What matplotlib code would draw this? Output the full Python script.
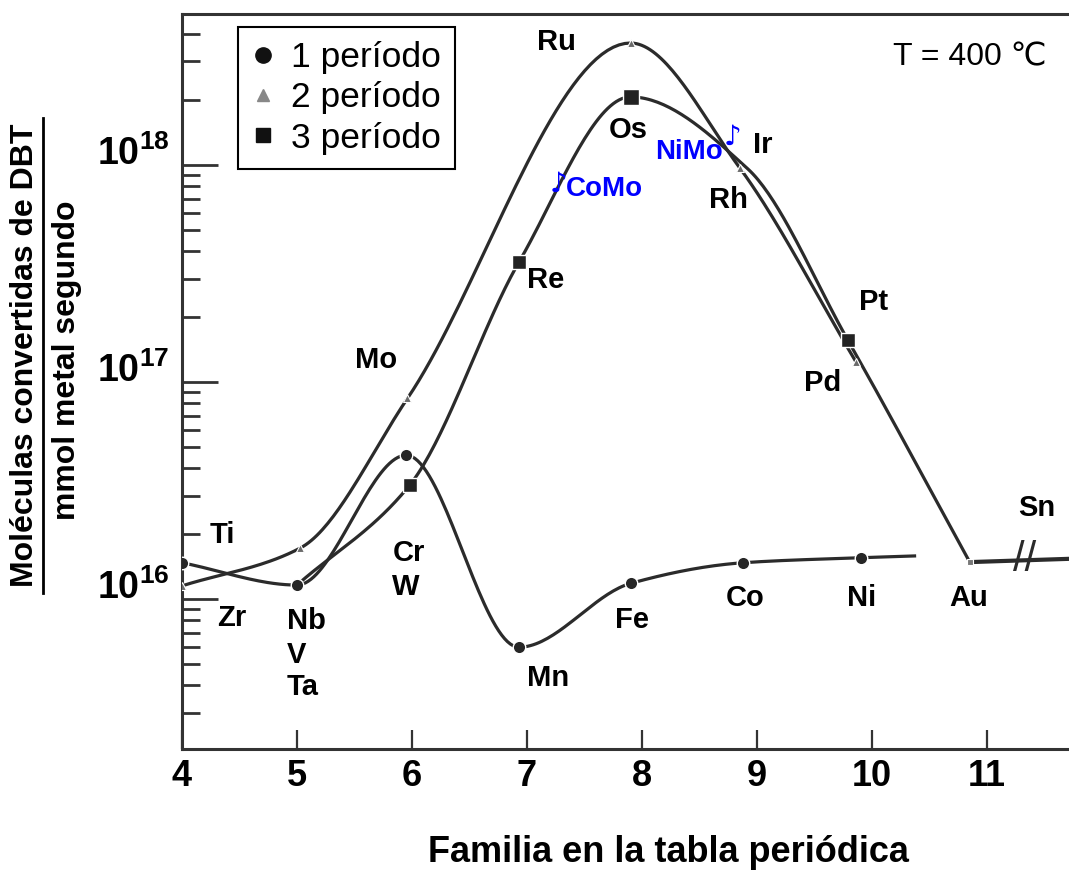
import numpy as np
import matplotlib
matplotlib.use('Agg')
import matplotlib.pyplot as plt
from matplotlib.lines import Line2D
from matplotlib.ticker import FixedLocator, LogLocator, NullFormatter

plt.rcParams['font.family'] = ['Liberation Sans', 'DejaVu Sans']
plt.rcParams['mathtext.fontset'] = 'custom'
plt.rcParams['mathtext.rm'] = 'Liberation Sans'
plt.rcParams['mathtext.bf'] = 'Liberation Sans:bold'

# periodo 1 (3d): Ti V Cr Mn Fe Co Ni, y el final del trazo
fam_p1 = [4.0, 5.0, 5.95, 6.93, 7.90, 8.88, 9.90, 10.37]
val_p1 = [1.47e16, 1.16e16, 4.6e16, 6.0e15, 1.18e16, 1.47e16, 1.55e16, 1.58e16]
# periodo 2 (4d): Zr Nb Mo Ru Rh Pd
fam_p2 = [4.0, 5.03, 5.96, 7.90, 8.85, 9.86]
val_p2 = [1.15e16, 1.72e16, 8.4e16, 3.65e18, 9.7e17, 1.24e17]
# periodo 3 (5d): Ta W Re Os Ir Pt Au
fam_p3 = [5.0, 5.98, 6.93, 7.90, 8.92, 9.79, 10.85]
val_p3 = [1.16e16, 3.35e16, 3.57e17, 2.06e18, 9.6e17, 1.56e17, 1.48e16]
# Au -> Sn (eje cortado)
fam_sn = [10.85, 12.0]
val_sn = [1.48e16, 1.55e16]
# catalizadores
cat_nombres = ['CoMo', 'NiMo']
cat_fam = [7.23, 8.74]
cat_val = [7.5e17, 1.24e18]

x_ticks = [4, 5, 6, 7, 8, 9, 10, 11]
y_ticks = [1e16, 1e17, 1e18]
y_labels = [r'$\mathbf{10^{16}}$', r'$\mathbf{10^{17}}$', r'$\mathbf{10^{18}}$']
leyenda = ['1 período', '2 período', '3 período']

# etiquetas de elementos: texto, familia, log10(valor), alineacion
etiquetas = [
    ('Ru', 7.26, 18.567, 'center'), ('Os', 7.88, 18.161, 'center'),
    ('Ir', 9.05, 18.092, 'center'), ('Rh', 8.75, 17.839, 'center'),
    ('Re', 7.16, 17.470, 'center'), ('Pt', 10.01, 17.369, 'center'),
    ('Mo', 5.69, 17.101, 'center'), ('Pd', 9.57, 16.995, 'center'),
    ('Ti', 4.35, 16.295, 'center'), ('Cr', 5.83, 16.212, 'left'),
    ('W', 5.83, 16.055, 'left'), ('Zr', 4.43, 15.912, 'center'),
    ('Nb', 4.91, 15.899, 'left'), ('V', 4.91, 15.742, 'left'),
    ('Ta', 4.91, 15.594, 'left'), ('Mn', 7.18, 15.636, 'center'),
    ('Fe', 7.91, 15.903, 'center'), ('Co', 8.90, 16.005, 'center'),
    ('Ni', 9.91, 16.005, 'center'), ('Au', 10.84, 16.005, 'center'),
    ('Sn', 11.43, 16.419, 'center'),
]


def suave(xs, ys, n=40):
    # curva cubica monotona (Fritsch-Carlson) en escala log
    x = np.asarray(xs, float)
    y = np.log10(ys)
    h = np.diff(x)
    d = np.diff(y) / h
    m = np.empty_like(x)
    m[0], m[-1] = d[0], d[-1]
    for k in range(1, len(x) - 1):
        if d[k-1] * d[k] <= 0:
            m[k] = 0.0
        else:
            w1 = 2*h[k] + h[k-1]
            w2 = h[k] + 2*h[k-1]
            m[k] = (w1 + w2) / (w1/d[k-1] + w2/d[k])
    t = np.linspace(0, 1, n)
    h00 = 2*t**3 - 3*t**2 + 1
    h10 = t**3 - 2*t**2 + t
    h01 = -2*t**3 + 3*t**2
    h11 = t**3 - t**2
    xx, yy = [], []
    for k in range(len(h)):
        xx.append(x[k] + t*h[k])
        yy.append(h00*y[k] + h10*h[k]*m[k] + h01*y[k+1] + h11*h[k]*m[k+1])
    return np.concatenate(xx), 10**np.concatenate(yy)


fig = plt.figure(figsize=(10.69, 8.71), dpi=100)
ax = fig.add_axes([182/1069, 1 - 749/871, 887/1069, 735/871])
ax.set_yscale('log')

lc = '#2b2b2b'
for xs, ys in [(fam_p1, val_p1), (fam_p2, val_p2), (fam_p3, val_p3)]:
    sx, sy = suave(xs, ys)
    ax.plot(sx, sy, color=lc, lw=2.3, zorder=2)
ax.plot(fam_sn, val_sn, color=lc, lw=3, zorder=2)

# marcadores
ax.plot(fam_p1[:7], val_p1[:7], 'o', color='#262626', ms=9, mec='white', mew=1, zorder=3)
ax.plot(fam_p2, val_p2, '^', color='#6a6a6a', ms=6, mec='white', mew=0.8, zorder=3)
ax.plot(fam_p3, val_p3, 's', color='#222222', ms=10, mec='white', mew=1,
        markevery=[1, 2, 5], zorder=3)
ax.plot(fam_p3[3], val_p3[3], 's', color='#222222', ms=12, mec='white', mew=1, zorder=3)
ax.plot(fam_p3[6], val_p3[6], 's', color='#777777', ms=5, mec='white', mew=0.8, zorder=3)

# CoMo / NiMo en azul
for nom, xc, yc in zip(cat_nombres, cat_fam, cat_val):
    ax.annotate('\u266a', (xc, yc), xytext=(4, 6), textcoords='offset points',
                ha='center', va='center', color='blue', fontsize=20,
                family=['DejaVu Sans'], zorder=4)
ax.annotate('CoMo', (cat_fam[0], cat_val[0]), xytext=(9, 2), textcoords='offset points',
            ha='left', va='center', color='blue', fontsize=20, fontweight='bold')
ax.annotate('NiMo', (cat_fam[1], cat_val[1]), xytext=(-3, -5), textcoords='offset points',
            ha='right', va='center', color='blue', fontsize=20, fontweight='bold')

for txt, xe, le, al in etiquetas:
    ax.text(xe, 10**le, txt, ha=al, va='center', fontsize=21, fontweight='bold', zorder=4)

# corte del eje
ax.text(11.33, 1.52e16, '//', ha='center', va='center', fontsize=30, color=lc, zorder=4)

ax.text(0.888, 0.9415, 'T = 400 \u2103', transform=ax.transAxes, ha='center', va='center',
        fontsize=23)

# ejes
ax.set_xlim(4, 4 + 887/115)
ax.set_ylim(10**15.309, 10**18.696)
ax.xaxis.set_major_locator(FixedLocator(x_ticks))
ax.set_xticklabels([str(v) for v in x_ticks], fontsize=26, fontweight='bold')
ax.yaxis.set_major_locator(FixedLocator(y_ticks))
ax.set_yticklabels(y_labels, fontsize=27, va='baseline')
ax.yaxis.set_minor_locator(LogLocator(base=10, subs=np.arange(2, 10)))
ax.yaxis.set_minor_formatter(NullFormatter())
ax.tick_params(axis='x', direction='in', length=14, width=1.6, pad=7, color='#333')
ax.tick_params(axis='y', which='major', direction='in', length=26, width=2, pad=9, color='#333')
ax.tick_params(axis='y', which='minor', direction='in', length=13, width=2, color='#333')
for s in ['left', 'bottom', 'top']:
    ax.spines[s].set_linewidth(2.2)
    ax.spines[s].set_color('#333')
ax.spines['right'].set_visible(False)

h = [Line2D([], [], marker='o', ls='none', color='#111', ms=11),
     Line2D([], [], marker='^', ls='none', color='#888', ms=8),
     Line2D([], [], marker='s', ls='none', color='#111', ms=10)]
leg = ax.legend(h, leyenda, loc='upper left', bbox_to_anchor=(0.063, 0.982), fontsize=25.5,
                frameon=True, fancybox=False, edgecolor='black', framealpha=1,
                handlelength=0.6, handletextpad=0.5, labelspacing=0.2,
                borderpad=0.4, borderaxespad=0)
leg.get_frame().set_linewidth(1.5)

fig.text(668/1069, 1 - 852/871, 'Familia en la tabla periódica', ha='center', va='center',
         fontsize=26, fontweight='bold')
fig.text(25/1069, 1 - 355/871, 'Moléculas convertidas de DBT', rotation=90,
         ha='center', va='center', fontsize=23, fontweight='bold')
fig.text(67/1069, 1 - 360/871, 'mmol metal segundo', rotation=90,
         ha='center', va='center', fontsize=23, fontweight='bold')
fig.add_artist(Line2D([43/1069, 43/1069], [1 - 593/871, 1 - 118/871], color='black', lw=2))

fig.savefig('out.png', dpi=100)
